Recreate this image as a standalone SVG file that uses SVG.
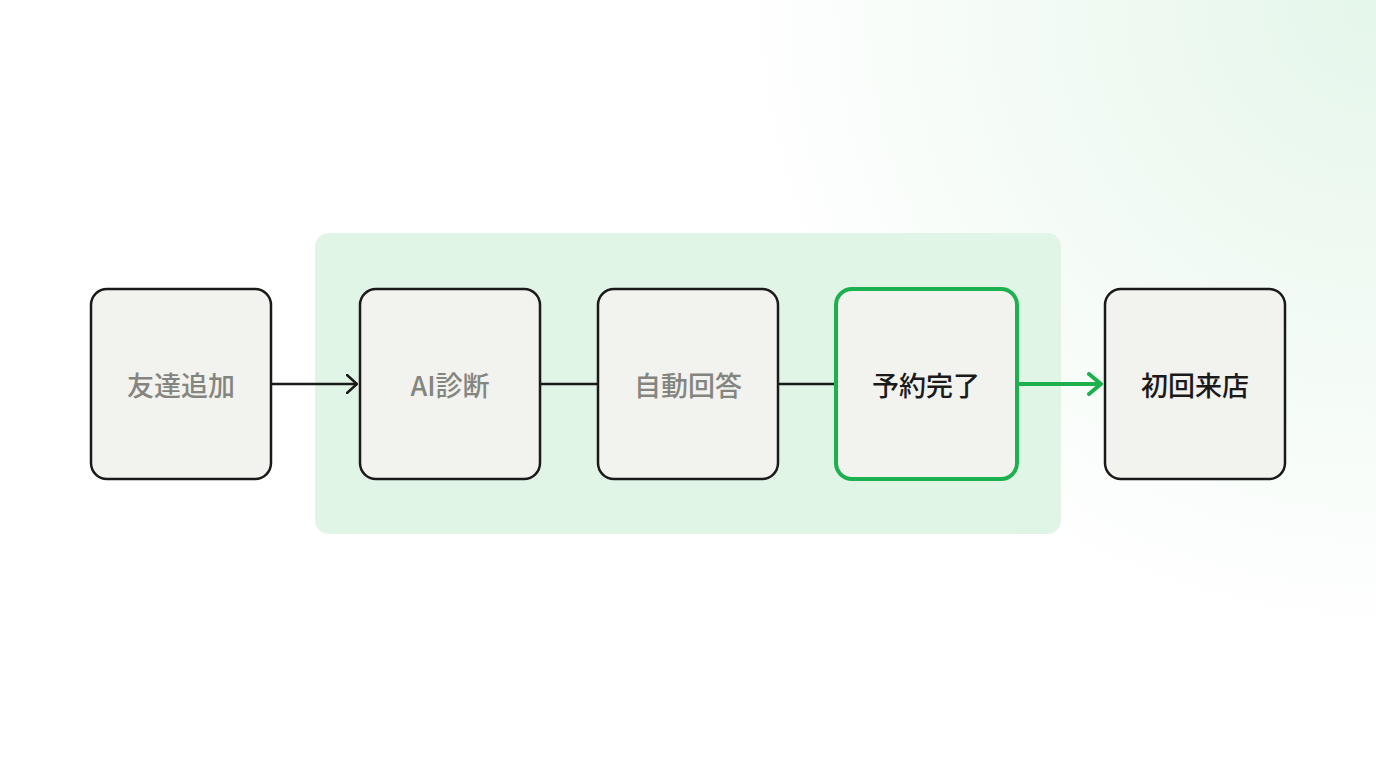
<svg xmlns="http://www.w3.org/2000/svg" width="1376" height="768" viewBox="0 0 1376 768">
<defs>
<radialGradient id="bg" cx="1376" cy="0" r="650" gradientUnits="userSpaceOnUse">
<stop offset="0" stop-color="#e5f6ea"/><stop offset="1" stop-color="#ffffff"/>
</radialGradient>
<marker id="ak" viewBox="0 0 12 20" refX="11" refY="10" markerWidth="12" markerHeight="20" markerUnits="userSpaceOnUse" orient="auto"><path d="M1,1 L11,10 L1,19" fill="none" stroke="#1a1a1a" stroke-width="2.5" stroke-linecap="round"/></marker>
<marker id="ag" viewBox="0 0 16 24" refX="14" refY="12" markerWidth="16" markerHeight="24" markerUnits="userSpaceOnUse" orient="auto"><path d="M2,2 L14,12 L2,22" fill="none" stroke="#1db04e" stroke-width="4" stroke-linecap="round" stroke-linejoin="round"/></marker>
</defs>
<style>
.n{fill:#f2f2ef;stroke:#1a1a1a;stroke-width:2.5}
.t{font-family:"Noto Sans CJK JP","Noto Sans",sans-serif;font-size:27px;font-weight:500;text-anchor:middle;dominant-baseline:central}
.g{fill:#85857f}.k{fill:#1a1a1a}
</style>
<rect width="1376" height="768" fill="url(#bg)"/>
<rect x="315" y="233" width="746" height="301" rx="14" fill="#e0f5e6"/>
<g id="connectors">
<line x1="271" y1="384" x2="357" y2="384" stroke="#1a1a1a" stroke-width="2.5" marker-end="url(#ak)"/>
<line x1="540" y1="384" x2="598" y2="384" stroke="#1a1a1a" stroke-width="2.5"/>
<line x1="778" y1="384" x2="836" y2="384" stroke="#1a1a1a" stroke-width="2.5"/>
<line x1="1017" y1="384" x2="1101" y2="384" stroke="#1db04e" stroke-width="4" marker-end="url(#ag)"/>
</g>
<g id="n1"><rect class="n" x="91" y="289" width="180" height="190" rx="16"/><text class="t g" x="181" y="384">友達追加</text></g>
<g id="n2"><rect class="n" x="360" y="289" width="180" height="190" rx="16"/><text class="t g" x="450" y="384">AI診断</text></g>
<g id="n3"><rect class="n" x="598" y="289" width="180" height="190" rx="16"/><text class="t g" x="688" y="384">自動回答</text></g>
<g id="n4"><rect class="n" x="836" y="289" width="181" height="190" rx="16" style="stroke:#1db04e;stroke-width:4"/><text class="t k" x="926" y="384">予約完了</text></g>
<g id="n5"><rect class="n" x="1105" y="289" width="180" height="190" rx="16"/><text class="t k" x="1195" y="384">初回来店</text></g>
</svg>
